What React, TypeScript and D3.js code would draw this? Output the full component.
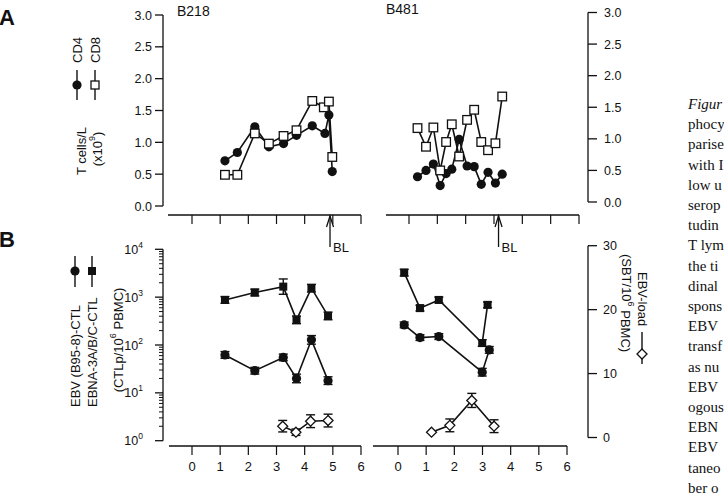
import React from 'react';
import * as d3 from 'd3';

// ---- data ----
const xTicks = [0, 1, 2, 3, 4, 5, 6];
const cellTicks = [0, 0.5, 1, 1.5, 2, 2.5, 3];
const loadTicks = [0, 10, 20, 30];
const logDecades = [0, 1, 2, 3, 4];

// Patient B218, T cell counts (x10^9 / L)
const b218Cd4Time = [1.17, 1.61, 2.23, 2.73, 3.25, 3.71, 4.27, 4.72, 4.86, 4.98];
const b218Cd4 = [0.71, 0.84, 1.245, 0.93, 0.98, 1.11, 1.26, 1.14, 1.43, 0.54];
const b218Cd8Time = [1.17, 1.61, 2.23, 2.73, 3.25, 3.71, 4.27, 4.68, 4.86, 4.98];
const b218Cd8 = [0.49, 0.49, 1.14, 0.98, 1.1, 1.19, 1.65, 1.55, 1.64, 0.77];

// Patient B481, T cell counts
const b481Time = [0.3, 0.6, 0.86, 1.1, 1.31, 1.51, 1.77, 2.05, 2.3, 2.55, 2.79, 3.05, 3.29];
const b481Cd8 = [1.17, 0.875, 1.18, 0.5, 0.95, 1.23, 0.72, 1.3, 1.46, 0.95, 0.82, 0.93, 1.67];
const b481Cd4 = [0.4, 0.5, 0.6, 0.26, 0.45, 0.52, 0.99, 0.57, 0.56, 0.28, 0.47, 0.3, 0.44];

// CTLp frequencies (per 10^6 PBMC), errors given in log10 units
const b218CtlTime = [1.17, 2.23, 3.24, 3.71, 4.24, 4.83];
const b218Ebna = [875, 1250, 1660, 335, 1540, 405];
const b218EbnaErr = [0.07, 0.07, 0.16, 0.08, 0.08, 0.08];
const b218Ebv = [62, 29, 55, 20, 128, 18];
const b218EbvErr = [0.07, 0.07, 0.07, 0.09, 0.09, 0.08];

const b481EbnaTime = [0.22, 0.78, 1.45, 2.99, 3.18];
const b481Ebna = [3250, 590, 875, 110, 690];
const b481EbnaErr = [0.07, 0.06, 0.06, 0.07, 0.06];
const b481EbvTime = [0.22, 0.78, 1.45, 2.99, 3.24];
const b481Ebv = [263, 143, 150, 27, 79];
const b481EbvErr = [0.06, 0.06, 0.06, 0.08, 0.07];

// EBV load (SBT / 10^6 PBMC)
const b218LoadTime = [3.22, 3.69, 4.21, 4.83];
const b218Load = [1.77, 0.83, 2.55, 2.65];
const b218LoadErr = [0.9, 0.5, 1.0, 1.0];
const b481LoadTime = [1.19, 1.84, 2.62, 3.41];
const b481Load = [0.83, 1.9, 5.8, 1.77];
const b481LoadErr = [0, 1.0, 1.1, 1.0];

const b218BL = 4.9;
const b481BL = 3.16;

const captionLines = [
  'Figur', 'phocy', 'parise', 'with I', 'low u', 'serop', 'tudin',
  'T lym', 'the ti', 'dinal', 'spons', 'EBV', 'transf', 'as nu',
  'EBV', 'ogous', 'EBN', 'EBV', 'taneo', 'ber o',
];

// ---- scales ----
const xLeft = d3.scaleLinear().domain([0, 6]).range([192, 361]);
const xRightTop = d3.scaleLinear().domain([0, 6]).range([409, 579]);
const xRightBottom = d3.scaleLinear().domain([0, 6]).range([398, 567]);

const yCellsL = d3.scaleLinear().domain([0, 3]).range([206, 15]);
const yCellsR = d3.scaleLinear().domain([0, 3]).range([202, 12.5]);
const yCtl = d3.scaleLog().domain([1, 1e4]).range([440.7, 249.3]);
const yLoad = d3.scaleLinear().domain([0, 30]).range([437.5, 245.7]);

const FONT = 'Liberation Sans, Arial, Helvetica, sans-serif';
const SERIF = 'Liberation Serif, Times New Roman, serif';

type Pt = [number, number];

function pts(xs: number[], ys: number[], xs_: d3.ScaleLinear<number, number>, ys_: (v: number) => number): Pt[] {
  return xs.map((x, i) => [xs_(x), ys_(ys[i])] as Pt);
}

const lineGen = d3.line<Pt>().x((d) => d[0]).y((d) => d[1]);

function Series({ points, marker }: { points: Pt[]; marker: 'circle' | 'square' | 'filledSquare' | 'diamond' }) {
  return (
    <g>
      <path d={lineGen(points) || ''} fill="none" stroke="#111" strokeWidth={1.6} />
      {points.map(([x, y], i) => {
        if (marker === 'circle') return <circle key={i} cx={x} cy={y} r={4.6} fill="#111" />;
        if (marker === 'square')
          return <rect key={i} x={x - 4.3} y={y - 4.3} width={8.6} height={8.6} fill="#fff" stroke="#111" strokeWidth={1.3} />;
        if (marker === 'filledSquare')
          return <rect key={i} x={x - 4} y={y - 4} width={8} height={8} fill="#111" />;
        return (
          <path key={i} d={`M${x},${y - 5}L${x + 5},${y}L${x},${y + 5}L${x - 5},${y}Z`} fill="#fff" stroke="#111" strokeWidth={1.3} />
        );
      })}
    </g>
  );
}

function ErrorBars({ points, lo, hi }: { points: Pt[]; lo: number[]; hi: number[] }) {
  return (
    <g stroke="#111" strokeWidth={1.4}>
      {points.map(([x], i) =>
        Math.abs(hi[i] - lo[i]) < 0.5 ? null : (
          <g key={i}>
            <line x1={x} x2={x} y1={lo[i]} y2={hi[i]} />
            <line x1={x - 4.5} x2={x + 4.5} y1={lo[i]} y2={lo[i]} />
            <line x1={x - 4.5} x2={x + 4.5} y1={hi[i]} y2={hi[i]} />
          </g>
        )
      )}
    </g>
  );
}

function TimeAxis({ scale, y, start, labels }: { scale: d3.ScaleLinear<number, number>; y: number; start: number; labels: boolean }) {
  const end = scale(6);
  return (
    <g>
      <line x1={start} x2={end} y1={y} y2={y} stroke="#111" strokeWidth={1.3} />
      {xTicks.map((t) => (
        <g key={t}>
          <line x1={scale(t)} x2={scale(t)} y1={y} y2={y + 9} stroke="#111" strokeWidth={1.2} />
          {labels && (
            <text x={scale(t)} y={y + 25} textAnchor="middle" fontSize={13} fontFamily={FONT} fill="#111">
              {t}
            </text>
          )}
        </g>
      ))}
    </g>
  );
}

function BLArrow({ x }: { x: number }) {
  return (
    <g stroke="#111" strokeWidth={1.3} fill="none">
      <line x1={x} x2={x} y1={216} y2={247} />
      <path d={`M${x - 3.5},${227}L${x},${216}L${x + 3.5},${227}`} />
      <text x={x + 3} y={252} fontSize={13} fontFamily={FONT} fill="#111" stroke="none">
        BL
      </text>
    </g>
  );
}

export default function App() {
  const b218Cd4Pts = pts(b218Cd4Time, b218Cd4, xLeft, yCellsL);
  const b218Cd8Pts = pts(b218Cd8Time, b218Cd8, xLeft, yCellsL);
  const b481Cd4Pts = pts(b481Time, b481Cd4, xRightTop, yCellsR);
  const b481Cd8Pts = pts(b481Time, b481Cd8, xRightTop, yCellsR);

  const b218EbnaPts = pts(b218CtlTime, b218Ebna, xLeft, yCtl);
  const b218EbvPts = pts(b218CtlTime, b218Ebv, xLeft, yCtl);
  const b481EbnaPts = pts(b481EbnaTime, b481Ebna, xRightBottom, yCtl);
  const b481EbvPts = pts(b481EbvTime, b481Ebv, xRightBottom, yCtl);
  const b218LoadPts = pts(b218LoadTime, b218Load, xLeft, yLoad);
  const b481LoadPts = pts(b481LoadTime, b481Load, xRightBottom, yLoad);

  const logLo = (vals: number[], err: number[]) => vals.map((v, i) => yCtl(v / Math.pow(10, err[i])));
  const logHi = (vals: number[], err: number[]) => vals.map((v, i) => yCtl(v * Math.pow(10, err[i])));
  const linLo = (vals: number[], err: number[]) => vals.map((v, i) => yLoad(v - err[i]));
  const linHi = (vals: number[], err: number[]) => vals.map((v, i) => yLoad(v + err[i]));

  const minorTicks: number[] = [];
  logDecades.slice(0, 4).forEach((d) => {
    for (let m = 2; m <= 9; m++) minorTicks.push(m * Math.pow(10, d));
  });

  return (
    <svg width={724} height={498} style={{ position: 'absolute', left: 0, top: 0, background: '#fff' }}>
      <rect width={724} height={498} fill="#fff" />

      {/* panel letters */}
      <text x={-1} y={25} fontSize={22} fontWeight="bold" fontFamily={FONT} fill="#111">A</text>
      <text x={-1} y={247} fontSize={22} fontWeight="bold" fontFamily={FONT} fill="#111">B</text>

      {/* patient labels */}
      <text x={177} y={16} fontSize={14} fontFamily={FONT} fill="#111">B218</text>
      <text x={386} y={14} fontSize={14} fontFamily={FONT} fill="#111">B481</text>

      {/* ---- panel A axes ---- */}
      <g stroke="#111" strokeWidth={1.3}>
        <line x1={163} x2={163} y1={yCellsL(3)} y2={yCellsL(0)} />
        {cellTicks.map((t) => (
          <line key={t} x1={155} x2={163} y1={yCellsL(t)} y2={yCellsL(t)} />
        ))}
        <line x1={588} x2={588} y1={yCellsR(3)} y2={yCellsR(0)} />
        {cellTicks.map((t) => (
          <line key={t} x1={588} x2={597} y1={yCellsR(t)} y2={yCellsR(t)} />
        ))}
      </g>
      {cellTicks.map((t) => (
        <text key={t} x={152} y={yCellsL(t) + 4.5} textAnchor="end" fontSize={12.5} fontFamily={FONT} fill="#111">
          {d3.format('.1f')(t)}
        </text>
      ))}
      {cellTicks.map((t) => (
        <text key={t} x={604} y={yCellsR(t) + 4.5} fontSize={12.5} fontFamily={FONT} fill="#111">
          {d3.format('.1f')(t)}
        </text>
      ))}

      {/* panel A legend and axis title */}
      <g fontFamily={FONT} fontSize={13} fill="#111">
        <text transform="translate(77,50) rotate(-90)" textAnchor="middle" dominantBaseline="central">CD4</text>
        <text transform="translate(95,50) rotate(-90)" textAnchor="middle" dominantBaseline="central">CD8</text>
        <text transform="translate(81,151) rotate(-90)" textAnchor="middle" dominantBaseline="central">T cells/L</text>
        <text transform="translate(97,149) rotate(-90)" textAnchor="middle" dominantBaseline="central">
          (x10<tspan fontSize={9} dy={-5}>9</tspan><tspan dy={5}>)</tspan>
        </text>
      </g>
      <line x1={77} x2={77} y1={70} y2={100} stroke="#111" strokeWidth={1.4} />
      <circle cx={77} cy={85} r={4.6} fill="#111" />
      <line x1={95} x2={95} y1={70} y2={100} stroke="#111" strokeWidth={1.4} />
      <rect x={91} y={81} width={8} height={8} fill="#fff" stroke="#111" strokeWidth={1.3} />

      {/* panel A series */}
      <Series points={b218Cd4Pts} marker="circle" />
      <Series points={b218Cd8Pts} marker="square" />
      <Series points={b481Cd4Pts} marker="circle" />
      <Series points={b481Cd8Pts} marker="square" />

      {/* shared time axes with BL marks */}
      <TimeAxis scale={xLeft} y={215} start={168} labels={false} />
      <TimeAxis scale={xRightTop} y={215} start={386} labels={false} />
      <BLArrow x={xLeft(b218BL)} />
      <BLArrow x={xRightTop(b481BL)} />

      {/* ---- panel B axes ---- */}
      <g stroke="#111" strokeWidth={1.3}>
        <line x1={163} x2={163} y1={yCtl(1e4)} y2={yCtl(1)} />
        {logDecades.map((d) => (
          <line key={d} x1={155} x2={163} y1={yCtl(Math.pow(10, d))} y2={yCtl(Math.pow(10, d))} />
        ))}
      </g>
      <g stroke="#111" strokeWidth={1}>
        {minorTicks.map((t) => (
          <line key={t} x1={159} x2={163} y1={yCtl(t)} y2={yCtl(t)} />
        ))}
      </g>
      {logDecades.map((d) => (
        <text key={d} x={143} y={yCtl(Math.pow(10, d)) + 4.5} textAnchor="end" fontSize={12.5} fontFamily={FONT} fill="#111">
          10<tspan fontSize={8.5} dy={-6}>{d}</tspan>
        </text>
      ))}
      <g stroke="#111" strokeWidth={1.3}>
        <line x1={588} x2={588} y1={yLoad(30)} y2={yLoad(0)} />
        {loadTicks.map((t) => (
          <line key={t} x1={588} x2={597} y1={yLoad(t)} y2={yLoad(t)} />
        ))}
      </g>
      {loadTicks.map((t) => (
        <text key={t} x={603} y={yLoad(t) + 4.5} fontSize={12.5} fontFamily={FONT} fill="#111">
          {t}
        </text>
      ))}

      {/* panel B legends */}
      <g fontFamily={FONT} fontSize={13} fill="#111">
        <text transform="translate(75,407) rotate(-90)" dominantBaseline="central">EBV (B95-8)-CTL</text>
        <text transform="translate(92,407) rotate(-90)" dominantBaseline="central">EBNA-3A/B/C-CTL</text>
        <text transform="translate(118,340) rotate(-90)" textAnchor="middle" dominantBaseline="central">
          (CTLp/10<tspan fontSize={9} dy={-5}>6</tspan><tspan dy={5}> PBMC)</tspan>
        </text>
        <text transform="translate(642,272) rotate(90)" dominantBaseline="central">EBV-load</text>
        <text transform="translate(626,303) rotate(90)" textAnchor="middle" dominantBaseline="central">
          (SBT/10<tspan fontSize={9} dy={-5}>6</tspan><tspan dy={5}> PBMC)</tspan>
        </text>
      </g>
      <line x1={642} x2={642} y1={332} y2={364} stroke="#111" strokeWidth={1.4} />
      <path d="M642,349L647,354L642,359L637,354Z" fill="#fff" stroke="#111" strokeWidth={1.3} />
      <line x1={75} x2={75} y1={256} y2={287} stroke="#111" strokeWidth={1.4} />
      <circle cx={75} cy={271} r={4.6} fill="#111" />
      <line x1={92} x2={92} y1={256} y2={287} stroke="#111" strokeWidth={1.4} />
      <rect x={88} y={267} width={8} height={8} fill="#111" />

      {/* panel B series */}
      <ErrorBars points={b218EbnaPts} lo={logLo(b218Ebna, b218EbnaErr)} hi={logHi(b218Ebna, b218EbnaErr)} />
      <ErrorBars points={b218EbvPts} lo={logLo(b218Ebv, b218EbvErr)} hi={logHi(b218Ebv, b218EbvErr)} />
      <ErrorBars points={b481EbnaPts} lo={logLo(b481Ebna, b481EbnaErr)} hi={logHi(b481Ebna, b481EbnaErr)} />
      <ErrorBars points={b481EbvPts} lo={logLo(b481Ebv, b481EbvErr)} hi={logHi(b481Ebv, b481EbvErr)} />
      <ErrorBars points={b218LoadPts} lo={linLo(b218Load, b218LoadErr)} hi={linHi(b218Load, b218LoadErr)} />
      <ErrorBars points={b481LoadPts} lo={linLo(b481Load, b481LoadErr)} hi={linHi(b481Load, b481LoadErr)} />
      <Series points={b218EbnaPts} marker="filledSquare" />
      <Series points={b218EbvPts} marker="circle" />
      <Series points={b481EbnaPts} marker="filledSquare" />
      <Series points={b481EbvPts} marker="circle" />
      <Series points={b218LoadPts} marker="diamond" />
      <Series points={b481LoadPts} marker="diamond" />

      {/* bottom time axes */}
      <TimeAxis scale={xLeft} y={446} start={169} labels={true} />
      <TimeAxis scale={xRightBottom} y={446} start={373} labels={true} />
      <text x={366} y={508} textAnchor="middle" fontSize={13} fontFamily={FONT} fill="#111">Time (years)</text>

      {/* running caption text beside the figure */}
      <g fontFamily={SERIF} fontSize={15} fill="#111">
        {captionLines.map((s, i) => (
          <text key={i} x={688} y={109 + i * 20.2} fontStyle={i === 0 ? 'italic' : 'normal'}>
            {s}
          </text>
        ))}
      </g>
    </svg>
  );
}
